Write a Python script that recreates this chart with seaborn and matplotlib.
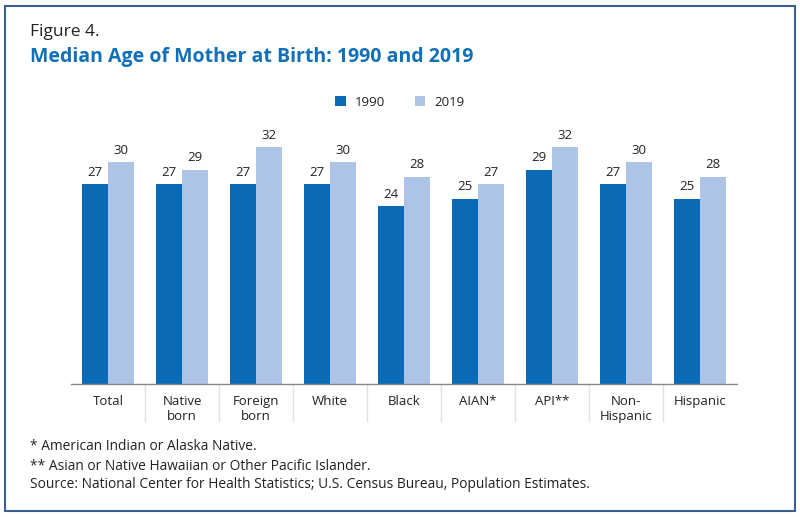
import pandas as pd
import matplotlib.pyplot as plt
import seaborn as sns
from matplotlib.patches import Rectangle

# data
groups = ['Total', 'Native\nborn', 'Foreign\nborn', 'White', 'Black',
          'AIAN*', 'API**', 'Non-\nHispanic', 'Hispanic']
age_1990 = [27, 27, 27, 27, 24, 25, 29, 27, 25]
age_2019 = [30, 29, 32, 30, 28, 27, 32, 30, 28]
years = ['1990', '2019']

dark = '#0a6ab6'
light = '#adc4e6'
title_blue = '#1170b8'

df = pd.DataFrame({'group': groups * 2,
                   'year': [years[0]] * len(groups) + [years[1]] * len(groups),
                   'age': age_1990 + age_2019})

sns.set_theme(style='white')
plt.rcParams['font.family'] = ['Open Sans', 'DejaVu Sans']
plt.rcParams['text.color'] = '#222222'

fig = plt.figure(figsize=(8, 5.17), dpi=100)
ax = fig.add_axes([71 / 800, 1 - 383.5 / 517, 666 / 800, (383.5 - 140) / 517])

sns.barplot(data=df, x='group', y='age', hue='year', order=groups,
            palette=[dark, light], width=0.7, saturation=1, linewidth=0, ax=ax)

for c in ax.containers:
    ax.bar_label(c, padding=4, fontsize=9.5, color='#222222')

ax.set_ylim(0, 33)
ax.set_xlim(-0.5, len(groups) - 0.5)
ax.set_xlabel('')
ax.set_ylabel('')
ax.set_yticks([])
for s in ['top', 'right', 'left']:
    ax.spines[s].set_visible(False)
ax.spines['bottom'].set_color('#888888')
ax.spines['bottom'].set_linewidth(1)
ax.tick_params(axis='x', length=0, pad=8, labelsize=9.5, labelcolor='#222222')

# thin separators under the axis between categories
ax.vlines([i + 0.5 for i in range(len(groups) - 1)], -0.158, 0,
          transform=ax.get_xaxis_transform(), color='#e2e2e2', lw=1, clip_on=False)

sns.move_legend(ax, 'center', bbox_to_anchor=(0.5, 1 - 102 / 517),
                bbox_transform=fig.transFigure, ncol=2, frameon=False, title=None,
                handlelength=0.8, handleheight=0.8, handletextpad=0.7,
                columnspacing=2.2, fontsize=9.5)

fig.text(30 / 800, 1 - 32 / 517, 'Figure 4.', fontsize=12.5, va='center', color='#222222')
fig.text(30 / 800, 1 - 57 / 517, 'Median Age of Mother at Birth: 1990 and 2019',
         fontsize=14, fontweight='bold', va='center', color=title_blue)

notes = ['* American Indian or Alaska Native.',
         '** Asian or Native Hawaiian or Other Pacific Islander.',
         'Source: National Center for Health Statistics; U.S. Census Bureau, Population Estimates.']
for i, t in enumerate(notes):
    fig.text(30 / 800, 1 - (447 + 19 * i) / 517, t, fontsize=9.9, va='center', color='#222222')

fig.add_artist(Rectangle((5 / 800, 6 / 517), 790 / 800, 505 / 517,
                         transform=fig.transFigure, fill=False,
                         edgecolor='#3d5f8f', lw=1.5))

fig.savefig('out.png', dpi=100)
